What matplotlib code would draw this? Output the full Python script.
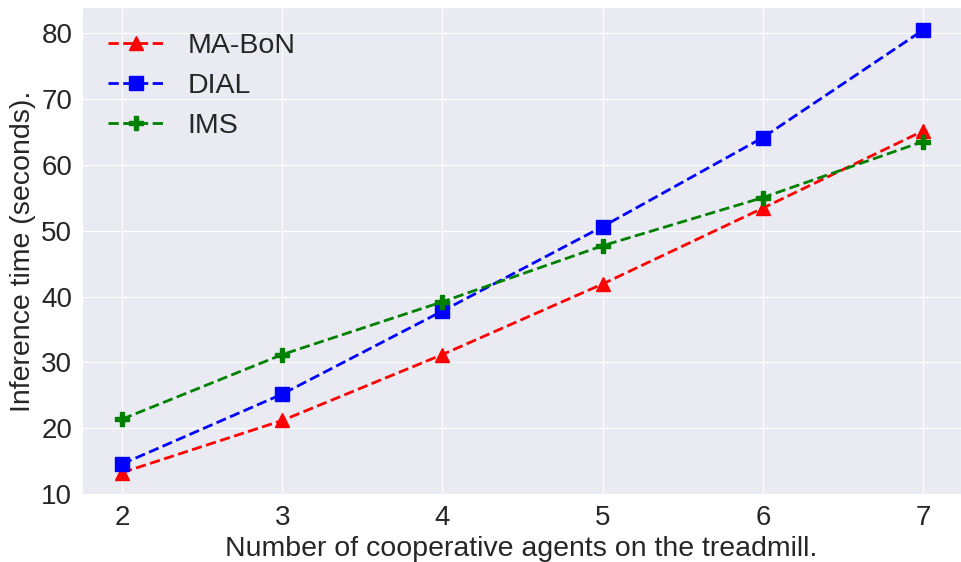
import matplotlib
matplotlib.use("Agg")
import matplotlib.pyplot as plt
import seaborn as sns

agents = [2, 3, 4, 5, 6, 7]
ma_bon = [13.3, 21.2, 31.2, 41.9, 53.4, 65.1]
dial = [14.6, 25.2, 37.8, 50.6, 64.1, 80.4]
ims = [21.4, 31.2, 39.2, 47.7, 55.0, 63.5]

sns.set_style("darkgrid")
plt.rcParams['font.family'] = ['Liberation Sans', 'DejaVu Sans']

fig = plt.figure(figsize=(9.61, 5.62), dpi=100)
ax = fig.add_axes([82/961, 67/562, 879/961, 488/562])

ax.plot(agents, ma_bon, color='red', linestyle='--', marker='^', markersize=10, linewidth=2, label='MA-BoN')
ax.plot(agents, dial, color='blue', linestyle='--', marker='s', markersize=10, linewidth=2, label='DIAL')
ax.plot(agents, ims, color='green', linestyle='--', marker='P', markersize=10, linewidth=2, label='IMS')

ax.set_xlim(1.75, 7.237)
ax.set_ylim(9.9, 83.9)
ax.set_xticks(agents)
ax.set_yticks([10, 20, 30, 40, 50, 60, 70, 80])
ax.tick_params(labelsize=20, colors='#262626')
ax.set_xlabel('Number of cooperative agents on the treadmill.', fontsize=20.5, color='#262626')
ax.set_ylabel('Inference time (seconds).', fontsize=20.5, color='#262626')
ax.legend(loc='upper left', fontsize=20.5, frameon=False)

fig.savefig('out.png', dpi=100)
